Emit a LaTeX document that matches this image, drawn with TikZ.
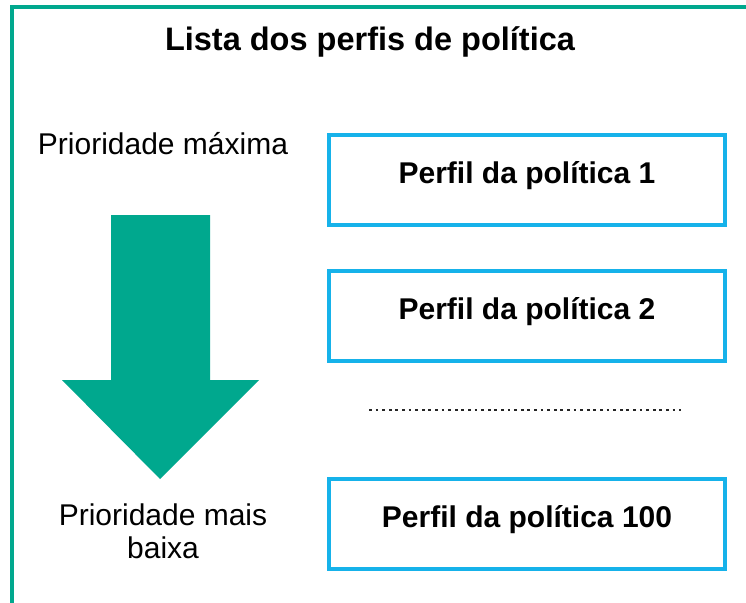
\documentclass[tikz,border=0pt]{standalone}
\usepackage{fontspec}
\setmainfont{Liberation Sans}
\definecolor{kgreen}{RGB}{0,168,142}
\definecolor{kblue}{RGB}{22,178,234}
\begin{document}
\begin{tikzpicture}[x=1pt,y=-1pt,
  profbox/.style={draw=kblue,line width=4pt,minimum width=396pt,minimum height=90pt,inner sep=0pt,
    text depth=16pt,font=\fontsize{30}{34}\selectfont\bfseries},
  lbl/.style={font=\fontsize{30}{33}\selectfont,align=center,inner sep=0pt}]
\useasboundingbox (0,0) rectangle (746,602);
\begin{scope}
\clip (0,0) rectangle (746,602);
\draw[kgreen,line width=4pt] (760,7) -- (12,7) -- (12,620);
\end{scope}
\node[font=\fontsize{32.5}{36}\selectfont\bfseries,inner sep=0pt] (title) at (370,42) {Lista dos perfis de política};
\node[lbl] (hi) at (163,144) {Prioridade máxima};
\node[lbl] (lo) at (163,531) {Prioridade mais\\baixa};
\node[profbox] (p1) at (527,180) {Perfil da política 1};
\node[profbox] (p2) at (527,316) {Perfil da política 2};
\node[profbox] (p3) at (527,524) {Perfil da política 100};
\coordinate (d1) at (369,410);
\coordinate (d2) at (681,410);
\draw[black!85,line width=2.8pt,dash pattern=on 2.8pt off 3.8pt] (d1) -- (d2);
\fill[kgreen] (111,215) -- (210,215) -- (210,380) -- (259,380) -- (160,479) -- (62,380) -- (111,380) -- cycle;
\end{tikzpicture}
\end{document}
